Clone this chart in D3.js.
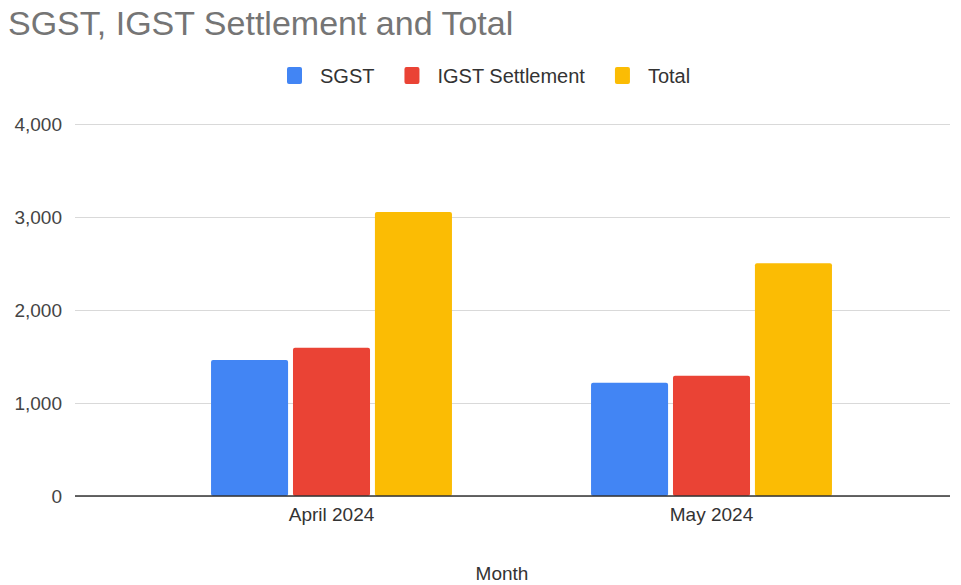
<!DOCTYPE html>
<html>
<script src="https://d3js.org/d3.v7.min.js"></script>
<style>
  body { margin: 0; background: #fff; }
  text { font-family: "Liberation Sans", Arial, sans-serif; }
</style>
<body>
<svg id="chart" width="961" height="585"></svg>
<script>

// data
const months = ["April 2024", "May 2024"]
const seriesNames = ["SGST", "IGST Settlement", "Total"]
const sgst = [1462, 1218]
const igstSettlement = [1594, 1294]
const total = [3054, 2502]
const yTicks = [0, 1000, 2000, 3000, 4000]

const colors = ["#4285F4", "#EA4335", "#FBBC04"]

const plotLeft = 75
const plotRight = 950
const plotTop = 124
const plotBottom = 496

const svg = d3.select("#chart")

const rows = months.map((m, i) => ({
  month: m,
  values: [sgst[i], igstSettlement[i], total[i]]
}))

// title
svg.append("text")
  .attr("x", 8)
  .attr("y", 35)
  .attr("font-size", 34)
  .attr("fill", "#757575")
  .text("SGST, IGST Settlement and Total")

// scales
const y = d3.scaleLinear()
  .domain([0, 4000])
  .range([plotBottom, plotTop])

const x0 = d3.scaleBand()
  .domain(months)
  .range([141.5, 901.5])
  .paddingInner(0.366)
  .paddingOuter(0.183)

const x1 = d3.scaleBand()
  .domain(seriesNames)
  .range([0, x0.bandwidth()])
  .paddingInner(0.06)

// gridlines
const grid = svg.append("g")
  .attr("transform", "translate(" + plotLeft + ",0)")
  .call(d3.axisLeft(y).tickValues(yTicks).tickSize(-(plotRight - plotLeft)).tickFormat(""))
grid.select(".domain").remove()
grid.selectAll("line").attr("stroke", "#d9d9d9").attr("stroke-width", 1.2)

// y labels
const yAxis = svg.append("g")
  .attr("transform", "translate(62,0)")
  .call(d3.axisLeft(y).tickValues(yTicks).tickSize(0).tickPadding(0).tickFormat(d3.format(",")))
yAxis.select(".domain").remove()
yAxis.selectAll("text")
  .attr("font-size", 19)
  .attr("fill", "#444")
  .attr("font-family", "Liberation Sans, Arial, sans-serif")

// bars
const groups = svg.selectAll(".month")
  .data(rows)
  .join("g")
  .attr("class", "month")
  .attr("transform", d => "translate(" + x0(d.month) + ",0)")

groups.selectAll("rect")
  .data(d => d.values.map((v, i) => ({ name: seriesNames[i], value: v, color: colors[i] })))
  .join("rect")
  .attr("x", d => x1(d.name))
  .attr("y", d => y(d.value))
  .attr("width", x1.bandwidth())
  .attr("height", d => plotBottom - y(d.value))
  .attr("rx", 2)
  .attr("fill", d => d.color)

// baseline
svg.append("line")
  .attr("x1", plotLeft)
  .attr("x2", plotRight)
  .attr("y1", plotBottom)
  .attr("y2", plotBottom)
  .attr("stroke", "#333")
  .attr("stroke-width", 1.5)

// x labels
const xAxis = svg.append("g")
  .attr("transform", "translate(0," + plotBottom + ")")
  .call(d3.axisBottom(x0).tickSize(0).tickPadding(12))
xAxis.select(".domain").remove()
xAxis.selectAll("text")
  .attr("font-size", 19)
  .attr("fill", "#333")
  .attr("font-family", "Liberation Sans, Arial, sans-serif")

svg.append("text")
  .attr("x", 502)
  .attr("y", 580)
  .attr("text-anchor", "middle")
  .attr("font-size", 19)
  .attr("fill", "#333")
  .text("Month")

// legend
const legend = svg.append("g").attr("transform", "translate(287,0)")
let lx = 0
seriesNames.forEach((name, i) => {
  legend.append("rect")
    .attr("x", lx)
    .attr("y", 67)
    .attr("width", 15)
    .attr("height", 17)
    .attr("rx", 2)
    .attr("fill", colors[i])
  const t = legend.append("text")
    .attr("x", lx + 33)
    .attr("y", 83)
    .attr("font-size", 20)
    .attr("fill", "#333")
    .text(name)
  lx += 33 + t.node().getComputedTextLength() + 30
})

</script>
</body>
</html>
